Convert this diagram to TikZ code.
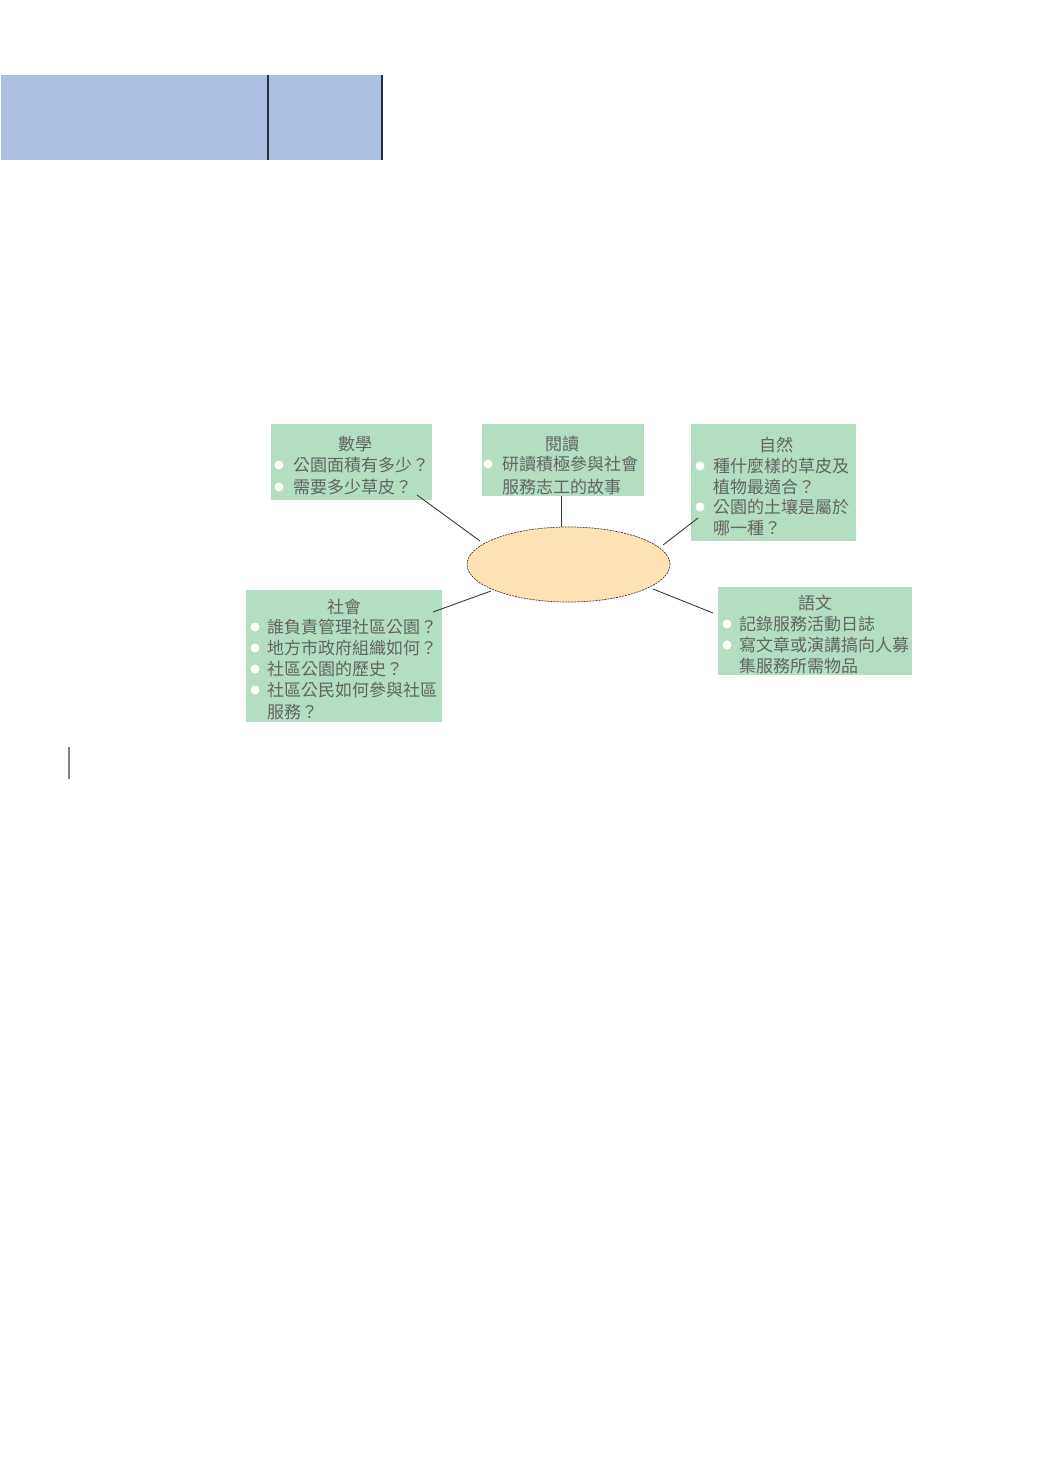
\documentclass[tikz,border=0pt]{standalone}
\usepackage{fontspec}
\newfontfamily\cjk{Noto Sans CJK TC}
\usetikzlibrary{shapes.geometric}
\definecolor{boxgreen}{RGB}{179,222,193}
\definecolor{ellfill}{RGB}{254,226,180}
\definecolor{barblue}{RGB}{173,191,227}
\definecolor{barline}{RGB}{40,48,70}
\definecolor{txtgray}{RGB}{100,100,100}
\definecolor{linegray}{RGB}{60,60,60}
\begin{document}
\begin{tikzpicture}[x=1pt,y=-1pt,
  box/.style={rectangle, fill=boxgreen, draw=none, inner sep=0pt},
  txt/.style={font=\cjk\fontsize{17}{20}\selectfont, text=txtgray, inner sep=0pt, anchor=west},
  ttl/.style={font=\cjk\fontsize{17}{20}\selectfont, text=txtgray, inner sep=0pt, anchor=center},
  bul/.style={circle, fill=white, draw=none, minimum size=9pt, inner sep=0pt},
  conn/.style={draw=linegray, line width=0.9pt}]
\fill[white] (0,0) rectangle (1054,1482);
\useasboundingbox (0,0) rectangle (1054,1482);

% top blue bar
\fill[barblue] (1,75) rectangle (382,160);
\draw[barline, line width=1.5pt] (268,75) -- (268,160);
\draw[barline, line width=1.5pt] (382,75) -- (382,160);

% small left line
\draw[gray, line width=2pt] (68.5,747) -- (68.5,779);

% boxes
\node[box, minimum width=161pt, minimum height=76pt] (math) at (351.5,462) {};
\node[box, minimum width=162pt, minimum height=72pt] (read) at (563,460) {};
\node[box, minimum width=165pt, minimum height=117pt] (nat) at (773.5,482.5) {};
\node[box, minimum width=194pt, minimum height=88pt] (lang) at (815,631) {};
\node[box, minimum width=196pt, minimum height=132pt] (soc) at (344,656) {};

% center ellipse
\node[ellipse, fill=ellfill, draw=linegray, dash pattern=on 2pt off 1pt, line width=0.7pt,
  minimum width=203pt, minimum height=75pt, inner sep=0pt] (core) at (568.5,564.5) {};

% connector end points
\coordinate (mA) at (417,495); \coordinate (mB) at (480,541);
\coordinate (rA) at (561.5,496); \coordinate (rB) at (561.5,527);
\coordinate (nA) at (698,518); \coordinate (nB) at (663,545);
\coordinate (lA) at (653,589); \coordinate (lB) at (713,613);
\coordinate (sA) at (433,612); \coordinate (sB) at (491,591);
\draw[conn] (mA) -- (mB);
\draw[conn] (rA) -- (rB);
\draw[conn] (nA) -- (nB);
\draw[conn] (lA) -- (lB);
\draw[conn] (sA) -- (sB);

% math box text
\node[ttl] (mT) at (355,444) {數學};
\node[bul] (mb1) at (279,465) {};
\node[txt] (m1) at (293,465) {公園面積有多少？};
\node[bul] (mb2) at (279,487) {};
\node[txt] (m2) at (293,487) {需要多少草皮？};

% reading box text
\node[ttl] (rT) at (562,444) {閱讀};
\node[bul] (rb1) at (488,464) {};
\node[txt] (r1) at (502,464) {研讀積極參與社會};
\node[txt] (r2) at (502,487) {服務志工的故事};

% nature box text
\node[ttl] (nT) at (776,445) {自然};
\node[bul] (nb1) at (700,466) {};
\node[txt] (n1) at (713,466) {種什麼樣的草皮及};
\node[txt] (n2) at (713,487) {植物最適合？};
\node[bul] (nb2) at (700,507) {};
\node[txt] (n3) at (713,507) {公園的土壤是屬於};
\node[txt] (n4) at (713,528) {哪一種？};

% language box text
\node[ttl] (lT) at (815,603) {語文};
\node[bul] (lb1) at (727,624) {};
\node[txt] (l1) at (739,624) {記錄服務活動日誌};
\node[bul] (lb2) at (727,645) {};
\node[txt] (l2) at (739,645) {寫文章或演講搞向人募};
\node[txt] (l3) at (739,666) {集服務所需物品};

% society box text
\node[ttl] (sT) at (344,607) {社會};
\node[bul] (sb1) at (255,627) {};
\node[txt] (s1) at (267,627) {誰負責管理社區公園？};
\node[bul] (sb2) at (255,648) {};
\node[txt] (s2) at (267,648) {地方市政府組織如何？};
\node[bul] (sb3) at (255,669) {};
\node[txt] (s3) at (267,669) {社區公園的歷史？};
\node[bul] (sb4) at (255,690) {};
\node[txt] (s4) at (267,690) {社區公民如何參與社區};
\node[txt] (s5) at (267,712) {服務？};
\end{tikzpicture}
\end{document}
